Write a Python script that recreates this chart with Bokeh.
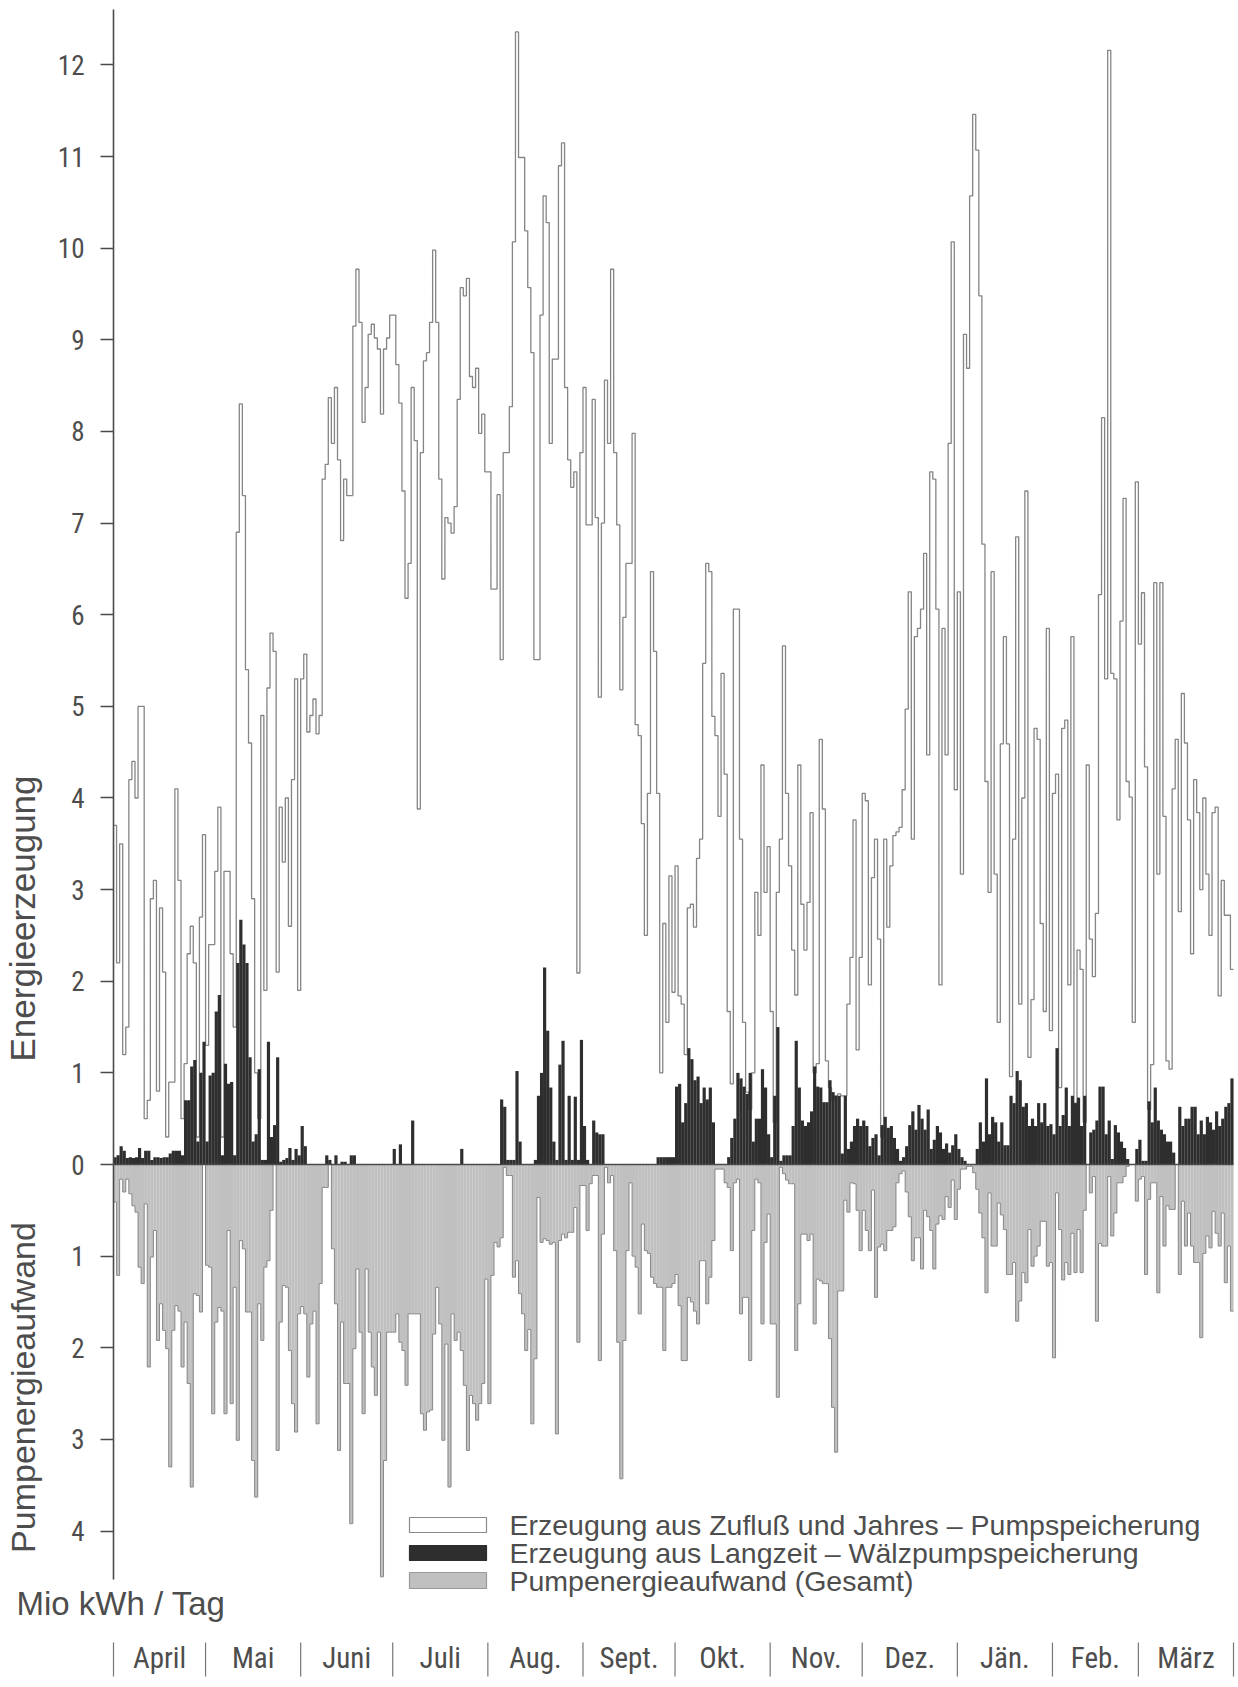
import numpy as np
from bokeh.plotting import figure
from bokeh.models import Range1d, LinearAxis, FixedTicker
from bokeh.core.properties import value
from bokeh.embed import file_html
from bokeh.resources import INLINE

# ---------------- data (Mio kWh per day, 1 April .. 31 March) ----------------
white = [
    3.7, 2.2, 3.5, 1.2, 1.5, 4.2, 4.4, 4.0, 5.0, 5.0,
    0.5, 0.7, 2.9, 3.1, 0.8, 2.8, 2.1, 0.3, 0.9, 0.9,
    4.1, 3.1, 0.5, 1.1, 2.3, 2.6, 2.2, 0.3, 2.7, 3.6,
    1.3, 2.4, 2.4, 3.2, 3.9, 0.3, 3.2, 3.2, 2.3, 1.5,
    6.9, 8.3, 7.3, 5.4, 4.6, 2.9, 1.0, 0.5, 4.9, 1.9,
    5.2, 5.8, 5.6, 2.1, 3.9, 3.3, 4.0, 2.6, 4.2, 5.3,
    1.9, 5.3, 5.57, 4.72, 4.9, 5.08, 4.7, 4.9, 7.48, 7.64,
    8.37, 7.87, 8.48, 7.69, 6.81, 7.48, 7.3, 7.3, 9.15, 9.77,
    9.19, 8.1, 8.48, 9.06, 9.17, 9.02, 8.9, 8.19, 8.9, 9.02,
    9.27, 9.27, 8.73, 8.31, 7.35, 6.18, 6.56, 8.48, 7.9, 3.88,
    7.77, 8.77, 8.86, 9.19, 9.98, 9.19, 7.48, 6.39, 7.06, 7.0,
    6.89, 7.18, 8.35, 9.57, 9.48, 9.67, 8.6, 8.48, 8.69, 7.98,
    8.19, 7.56, 7.56, 6.28, 6.28, 7.31, 5.51, 7.77, 7.77, 8.27,
    10.07, 12.36, 10.99, 10.99, 10.19, 9.57, 8.86, 5.51, 5.51, 9.27,
    10.57, 10.28, 7.87, 8.79, 8.79, 10.9, 11.15, 8.48, 7.69, 7.39,
    7.56, 2.09, 7.77, 8.48, 6.98, 6.98, 8.35, 7.06, 5.1, 7.0,
    8.56, 7.87, 9.77, 7.77, 6.98, 5.18, 5.97, 6.56, 6.56, 7.98,
    4.8, 4.68, 3.72, 2.5, 4.05, 6.47, 5.6, 4.05, 1.0, 2.63,
    1.55, 3.15, 1.88, 3.26, 1.84, 1.75, 1.2, 2.8, 2.84, 2.59,
    3.34, 3.55, 5.47, 6.56, 6.47, 4.89, 4.68, 3.8, 5.36, 4.26,
    1.67, 0.88, 6.06, 6.06, 3.55, 1.55, 0.79, 0.6, 1.0, 2.97,
    2.5, 4.36, 2.97, 3.47, 1.67, 0.46, 2.97, 3.55, 5.66, 4.05,
    3.26, 2.34, 1.85, 4.36, 2.84, 2.34, 2.86, 3.84, 1.0, 1.1,
    4.64, 3.88, 1.13, 0.84, 0.7, 0.75, 0.77, 0.75, 0.75, 1.75,
    2.26, 3.76, 1.25, 2.26, 4.05, 3.97, 1.96, 3.13, 3.55, 2.46,
    0.3, 3.55, 2.59, 3.26, 3.59, 3.63, 3.68, 4.09, 4.97, 6.25,
    3.55, 5.76, 5.85, 6.06, 6.67, 4.47, 7.56, 7.48, 6.06, 1.96,
    5.85, 4.47, 7.87, 10.07, 4.09, 6.25, 3.17, 9.06, 8.69, 10.57,
    11.46, 11.07, 9.48, 6.77, 4.18, 2.97, 6.47, 3.17, 1.55, 4.59,
    5.76, 4.59, 0.96, 3.55, 6.85, 1.75, 4.0, 7.35, 1.17, 1.8,
    4.76, 4.64, 2.63, 1.67, 5.85, 1.46, 4.05, 4.26, 0.84, 4.76,
    4.85, 1.96, 5.76, 0.67, 2.34, 2.13, 0.46, 4.36, 2.46, 2.05,
    2.74, 6.22, 8.15, 5.3, 12.16, 5.36, 5.3, 3.76, 5.93, 7.27,
    4.18, 4.01, 1.55, 7.45, 5.68, 6.24, 4.34, 0.6, 1.09, 6.35,
    3.17, 6.35, 3.8, 1.13, 1.04, 4.1, 4.64, 2.76, 5.14, 4.6,
    3.76, 2.3, 4.2, 3.84, 3.0, 4.0, 3.17, 2.5, 3.84, 3.9,
    1.84, 3.1, 2.72, 2.72, 2.13,
]

black = [
    0.08, 0.1, 0.2, 0.15, 0.07, 0.08, 0.07, 0.08, 0.18, 0.07,
    0.15, 0.15, 0.05, 0.08, 0.08, 0.07, 0.08, 0.08, 0.12, 0.15,
    0.15, 0.15, 0.1, 0.7, 0.7, 1.07, 1.14, 0.25, 1.0, 1.34,
    0.25, 0.97, 1.0, 1.67, 1.85, 0.1, 1.1, 0.88, 0.9, 0.1,
    2.2, 2.67, 2.4, 2.2, 1.17, 0.25, 0.33, 1.04, 0.05, 0.05,
    1.34, 0.3, 0.43, 1.17, 0.03, 0.05, 0.07, 0.18, 0.05, 0.17,
    0.1, 0.42, 0.2, 0.0, 0.0, 0.0, 0.0, 0.0, 0.0, 0.1,
    0.05, 0.0, 0.1, 0.0, 0.03, 0.03, 0.0, 0.1, 0.1, 0.0,
    0.0, 0.0, 0.0, 0.0, 0.0, 0.0, 0.0, 0.0, 0.0, 0.0,
    0.0, 0.17, 0.0, 0.22, 0.0, 0.0, 0.0, 0.48, 0.0, 0.0,
    0.0, 0.0, 0.0, 0.0, 0.0, 0.0, 0.0, 0.0, 0.0, 0.0,
    0.0, 0.0, 0.0, 0.17, 0.0, 0.0, 0.0, 0.0, 0.0, 0.0,
    0.0, 0.0, 0.0, 0.0, 0.0, 0.0, 0.71, 0.63, 0.05, 0.05,
    0.05, 1.02, 0.25, 0.0, 0.0, 0.0, 0.0, 0.05, 0.75, 1.0,
    2.15, 1.46, 0.84, 0.25, 0.05, 1.09, 1.35, 0.05, 0.75, 0.05,
    0.74, 0.05, 1.36, 0.42, 0.05, 0.0, 0.48, 0.35, 0.33, 0.33,
    0.0, 0.0, 0.0, 0.0, 0.0, 0.0, 0.0, 0.0, 0.0, 0.0,
    0.0, 0.0, 0.0, 0.0, 0.0, 0.0, 0.0, 0.08, 0.08, 0.08,
    0.08, 0.08, 0.08, 0.85, 0.88, 0.46, 0.67, 1.27, 1.15, 0.92,
    0.96, 0.67, 0.84, 0.71, 0.84, 0.46, 0.0, 0.0, 0.0, 0.0,
    0.08, 0.29, 0.5, 1.0, 0.94, 0.85, 0.77, 1.0, 0.25, 0.5,
    0.5, 1.04, 0.84, 0.33, 0.08, 0.75, 1.5, 0.04, 0.1, 0.1,
    0.1, 0.42, 1.35, 0.84, 0.48, 0.42, 0.46, 0.58, 1.07, 0.85,
    0.84, 0.68, 0.68, 0.92, 0.79, 0.75, 0.75, 0.12, 0.75, 0.17,
    0.25, 0.42, 0.5, 0.42, 0.48, 0.42, 0.2, 0.29, 0.33, 0.1,
    0.43, 0.52, 0.4, 0.42, 0.29, 0.17, 0.04, 0.08, 0.2, 0.43,
    0.58, 0.38, 0.65, 0.5, 0.38, 0.6, 0.17, 0.27, 0.42, 0.35,
    0.17, 0.23, 0.13, 0.21, 0.33, 0.17, 0.08, 0.04, 0.0, 0.0,
    0.0, 0.17, 0.46, 0.25, 0.94, 0.33, 0.52, 0.46, 0.25, 0.46,
    0.21, 0.21, 0.75, 0.67, 1.02, 0.92, 0.63, 0.67, 0.42, 0.5,
    0.42, 0.67, 0.46, 0.67, 0.42, 0.44, 0.33, 1.27, 0.42, 0.54,
    0.84, 0.42, 0.75, 0.67, 0.73, 0.42, 0.75, 0.0, 0.35, 0.38,
    0.48, 0.85, 0.85, 0.33, 0.48, 0.06, 0.43, 0.35, 0.25, 0.18,
    0.06, 0.0, 0.0, 0.17, 0.27, 0.04, 0.04, 0.69, 0.46, 0.84,
    0.48, 0.38, 0.33, 0.25, 0.25, 0.13, 0.0, 0.63, 0.42, 0.5,
    0.5, 0.63, 0.63, 0.33, 0.48, 0.33, 0.52, 0.46, 0.38, 0.58,
    0.42, 0.5, 0.63, 0.67, 0.94,
]

grey = [
    0.41, 1.21, 0.16, 0.3, 0.16, 0.32, 0.45, 0.52, 1.12, 1.3,
    0.43, 2.21, 1.01, 0.72, 1.92, 1.52, 1.81, 2.01, 3.3, 1.81,
    1.54, 1.6, 2.21, 1.72, 2.39, 3.52, 1.41, 1.43, 1.61, 0.0,
    1.1, 1.12, 2.72, 1.72, 1.56, 1.6, 2.72, 0.72, 2.61, 1.34,
    3.01, 0.83, 0.92, 1.61, 1.61, 3.23, 3.63, 1.52, 1.92, 1.12,
    1.05, 0.5, 0.0, 3.12, 1.72, 1.32, 1.34, 2.03, 2.61, 2.92,
    1.63, 1.55, 1.63, 2.32, 1.74, 1.6, 2.83, 1.3, 0.25, 0.25,
    0.0, 0.92, 1.52, 3.12, 1.72, 2.39, 2.39, 3.92, 2.01, 1.14,
    1.83, 2.72, 1.14, 1.83, 2.21, 2.52, 1.83, 4.5, 3.23, 1.83,
    1.83, 1.83, 1.63, 1.94, 2.03, 2.41, 1.63, 1.63, 1.63, 1.63,
    2.72, 2.9, 2.7, 2.68, 1.85, 1.34, 1.74, 3.01, 1.96, 3.52,
    1.63, 1.92, 1.83, 2.03, 2.41, 3.12, 2.52, 2.61, 2.79, 2.61,
    2.39, 1.25, 2.61, 1.21, 0.85, 0.9, 0.8, 0.03, 0.12, 0.12,
    1.23, 1.05, 1.41, 1.63, 2.03, 1.8, 2.83, 2.12, 0.36, 0.85,
    0.81, 0.83, 0.87, 0.85, 2.94, 0.83, 0.76, 0.8, 0.74, 0.74,
    0.47, 1.94, 0.23, 0.23, 0.72, 0.21, 0.12, 0.12, 2.14, 0.76,
    0.03, 0.2, 0.12, 0.94, 1.94, 3.43, 1.92, 0.94, 0.2, 1.0,
    1.12, 1.63, 0.65, 0.94, 0.97, 1.23, 1.3, 1.34, 1.34, 2.03,
    1.34, 1.34, 1.3, 1.2, 1.54, 2.14, 2.14, 1.45, 1.5, 1.6,
    1.74, 1.05, 1.05, 1.52, 1.23, 0.83, 0.05, 0.05, 0.05, 0.2,
    0.25, 0.94, 0.2, 0.16, 1.63, 1.45, 1.45, 2.14, 0.72, 0.16,
    0.2, 1.74, 0.85, 0.54, 1.74, 1.74, 2.54, 0.03, 0.1, 0.17,
    0.21, 0.21, 2.03, 1.52, 0.76, 0.76, 0.83, 0.76, 1.74, 1.25,
    1.27, 1.3, 1.3, 1.9, 2.65, 3.14, 1.38, 1.38, 0.39, 0.52,
    0.2, 0.21, 0.5, 0.94, 0.5, 0.72, 0.94, 0.28, 1.45, 0.9,
    0.87, 0.94, 0.72, 0.72, 0.68, 0.2, 0.1, 0.07, 0.3, 0.57,
    1.05, 0.8, 0.8, 1.14, 0.5, 0.57, 0.72, 1.14, 0.65, 0.56,
    0.6, 0.35, 0.47, 0.17, 0.6, 0.27, 0.05, 0.05, 0.02, 0.02,
    0.09, 0.27, 0.53, 0.8, 1.4, 0.31, 0.89, 0.89, 0.42, 0.55,
    0.71, 1.2, 1.2, 1.07, 1.71, 1.49, 1.18, 1.29, 0.71, 1.11,
    1.0, 0.89, 0.62, 0.62, 1.11, 1.07, 2.11, 0.31, 0.71, 1.26,
    1.07, 1.2, 0.75, 1.18, 0.71, 1.18, 0.5, 0.0, 0.31, 0.13,
    1.71, 0.86, 0.89, 0.89, 0.13, 0.78, 0.53, 0.2, 0.2, 0.13,
    0.02, 0.0, 0.0, 0.4, 0.16, 0.13, 1.2, 0.38, 0.2, 0.2,
    1.4, 0.35, 0.89, 0.45, 0.49, 0.49, 0.0, 1.2, 0.4, 0.89,
    0.53, 0.89, 1.07, 1.07, 1.89, 0.97, 0.78, 0.91, 0.51, 0.75,
    0.89, 0.53, 1.29, 0.89, 1.6,
]

months = ["April", "Mai", "Juni", "Juli", "Aug.", "Sept.", "Okt.", "Nov.",
          "Dez.", "Jän.", "Feb.", "März"]
month_days = [30, 31, 30, 31, 31, 30, 31, 30, 31, 31, 28, 31]
y_ticks = list(range(-4, 13))
y_tick_labels = [str(abs(t)) for t in y_ticks]
legend_labels = ["Erzeugung aus Zufluß und Jahres – Pumpspeicherung",
                 "Erzeugung aus Langzeit – Wälzpumpspeicherung",
                 "Pumpenergieaufwand (Gesamt)"]
title_up = "Energieerzeugung"
title_down = "Pumpenergieaufwand"
unit_label = "Mio  kWh / Tag"

# ---------------- layout constants (page pixels) ----------------
W, H = 1236, 1684
DAY0_PAGE_X = 113.0
N_DAYS = len(white)
PX_PER_DAY = 1120.0 / N_DAYS
ZERO_PAGE_Y = 1164.0
PX_PER_UNIT = 91.63


def dx(page_x):
    return (page_x - DAY0_PAGE_X) / PX_PER_DAY


def dy(page_y):
    return (ZERO_PAGE_Y - page_y) / PX_PER_UNIT


x_range = Range1d(dx(0), dx(W))
y_range = Range1d(dy(H), dy(0))

TXT = "#4d4d4d"
LINE = "#4a4a4a"
NARROW = ("Roboto Condensed, DejaVu Sans Condensed, Liberation Sans Narrow, "
          "Liberation Sans, sans-serif")
SANS = "Liberation Sans, Arial, sans-serif"

p = figure(width=W, height=H, x_range=x_range, y_range=y_range,
           x_axis_type=None, y_axis_type=None, output_backend="svg",
           toolbar_location=None, min_border=0)
p.outline_line_color = None
p.background_fill_color = "white"
p.border_fill_color = "white"

days = np.arange(N_DAYS)
edges = np.arange(N_DAYS + 1)
centers = days + 0.5
w = np.array(white, dtype=float)
b = np.array(black, dtype=float)
g = np.array(grey, dtype=float)

GREY_FILL = "#c0c0c0"
DARK_FILL = "#2e2e2e"

# pumping energy (downwards)
p.vbar(x=centers, width=1.04, top=0, bottom=-g, fill_color=GREY_FILL,
       line_color=None)
p.step(x=edges, y=np.append(-g, -g[-1]), mode="after", line_color="#888888",
       line_width=1.0)

# generation from inflow (outline only)
p.step(x=edges, y=np.append(w, w[-1]), mode="after", line_color="#858585",
       line_width=1.3)

# generation from long-term pumped storage
p.vbar(x=centers, width=1.04, top=b, bottom=0, fill_color=DARK_FILL,
       line_color=None)

# baseline and axis line
p.segment(x0=[0], y0=[0], x1=[N_DAYS], y1=[0], line_color=LINE, line_width=1.6)
p.segment(x0=[0], y0=[dy(1579)], x1=[0], y1=[dy(9)], line_color=LINE,
          line_width=1.6)

# y axis (ticks and labels) at day 0
ax = LinearAxis(fixed_location=0, ticker=FixedTicker(ticks=y_ticks),
                major_label_overrides={t: l for t, l in zip(y_ticks, y_tick_labels)},
                axis_line_color=None, major_tick_line_color=LINE,
                major_tick_line_width=1.5, major_tick_out=13, major_tick_in=0,
                minor_tick_out=0, minor_tick_in=0,
                major_label_text_font=NARROW, major_label_text_font_size="27px",
                major_label_text_color=TXT, major_label_standoff=16)
p.add_layout(ax, "left")

# axis titles
p.text(x=[dx(22)], y=[dy(918)], text=[title_up], angle=np.pi / 2,
       text_font=value(SANS), text_font_size="35px", text_color=TXT,
       text_align="center", text_baseline="middle")
p.text(x=[dx(22)], y=[dy(1387)], text=[title_down], angle=np.pi / 2,
       text_font=value(SANS), text_font_size="34px", text_color=TXT,
       text_align="center", text_baseline="middle")
p.text(x=[dx(16)], y=[dy(1603)], text=[unit_label], text_font=value(SANS),
       text_font_size="33px", text_color=TXT, text_align="left",
       text_baseline="middle")

# month row
bounds = np.concatenate([[0], np.cumsum(month_days)])
mids = (bounds[:-1] + bounds[1:]) / 2.0
p.segment(x0=bounds, y0=[dy(1642)] * len(bounds), x1=bounds,
          y1=[dy(1676)] * len(bounds), line_color="#777777", line_width=1.2)
p.text(x=mids, y=[dy(1657)] * len(mids), text=months, text_font=value(NARROW),
       text_font_size="29px", text_color=TXT, text_align="center",
       text_baseline="middle")

# legend
box_l, box_r = dx(409), dx(486)
box_rows = [(1517, 1532), (1545, 1560), (1572, 1588)]
box_fill = ["white", DARK_FILL, GREY_FILL]
box_line = ["#8a8a8a", DARK_FILL, "#999999"]
p.quad(left=[box_l] * 3, right=[box_r] * 3,
       top=[dy(r[0]) for r in box_rows], bottom=[dy(r[1]) for r in box_rows],
       fill_color=box_fill, line_color=box_line, line_width=1.2)
p.text(x=[dx(509)] * 3, y=[dy((r[0] + r[1]) / 2) for r in box_rows],
       text=legend_labels, text_font=value(SANS), text_font_size="28.5px",
       text_color=TXT, text_align="left", text_baseline="middle")

open("out.html", "w").write(file_html(p, INLINE))
